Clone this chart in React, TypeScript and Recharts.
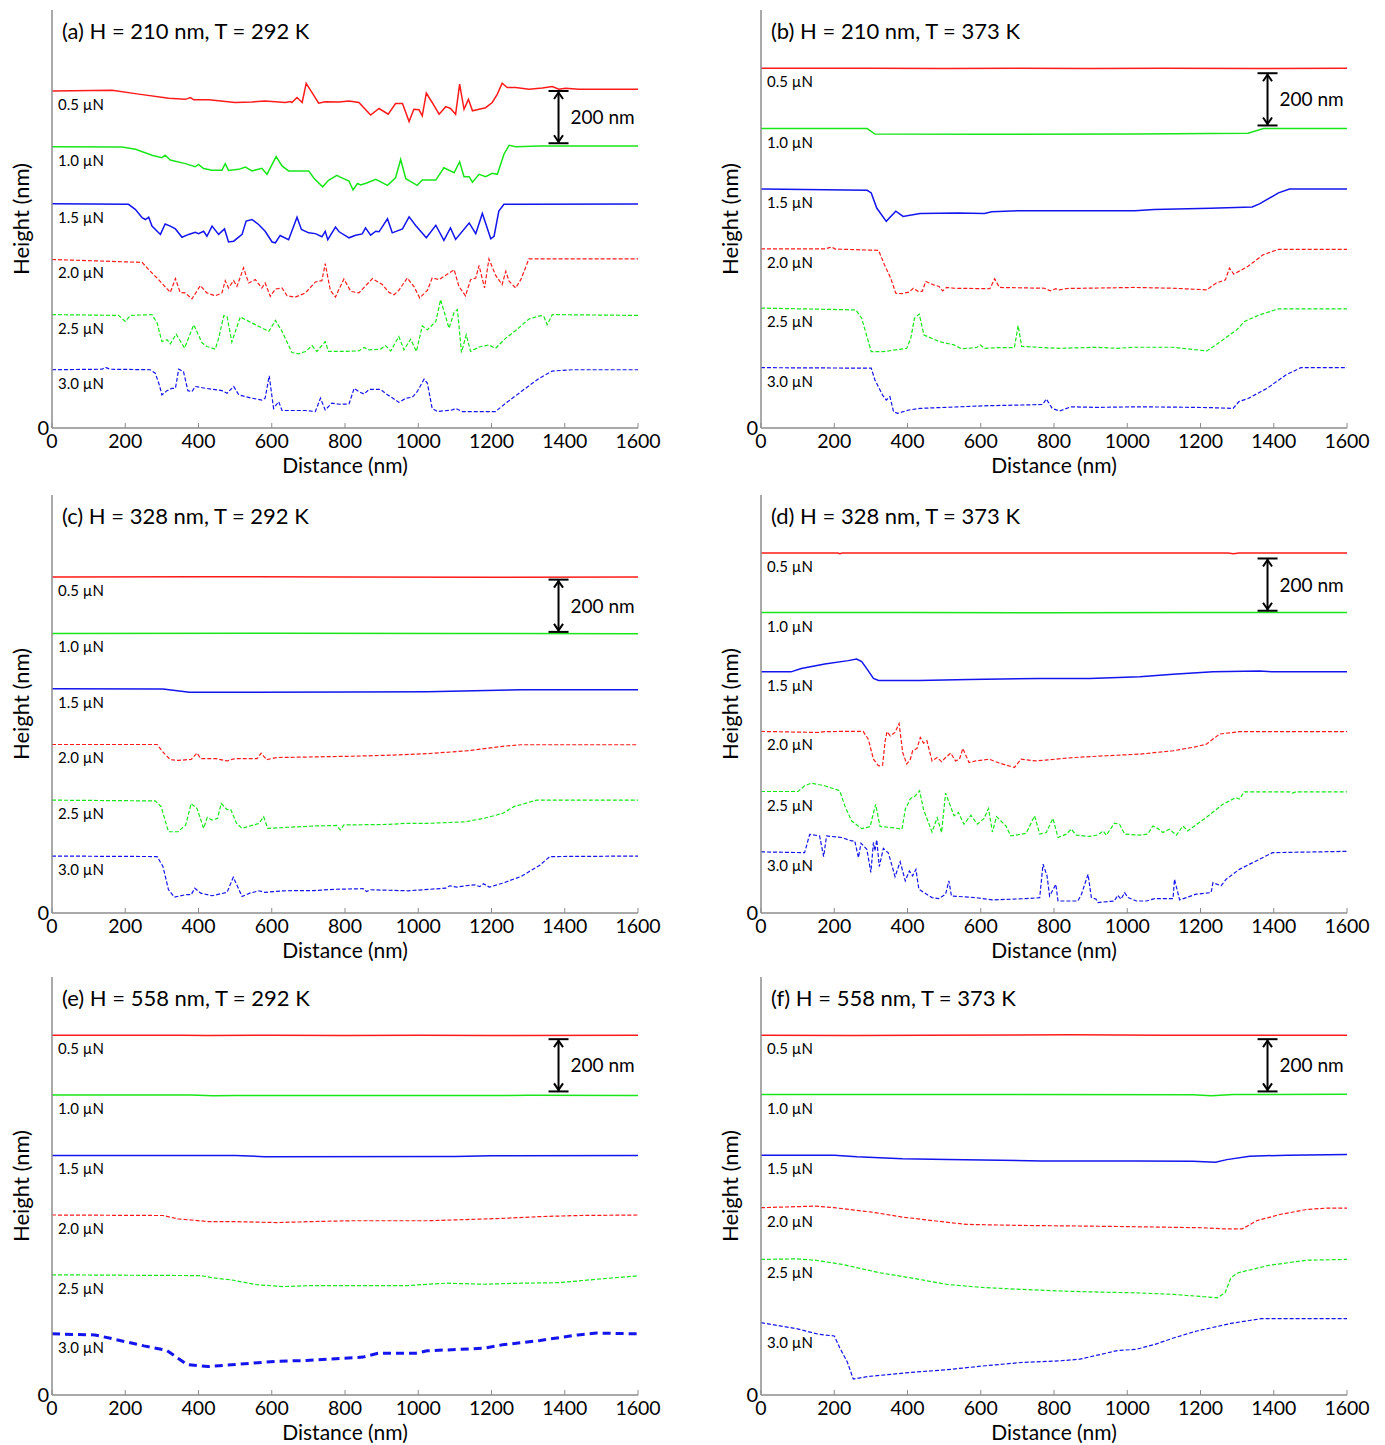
import React from "react";
import { LineChart, Line, XAxis, YAxis, ReferenceDot, ReferenceLine } from "recharts";

type Pt = [number, number];

const xTicks = [0, 200, 400, 600, 800, 1000, 1200, 1400, 1600];
const loads = ["0.5 µN", "1.0 µN", "1.5 µN", "2.0 µN", "2.5 µN", "3.0 µN"];
const titles = [
  "(a) H = 210 nm, T = 292 K",
  "(b) H = 210 nm, T = 373 K",
  "(c) H = 328 nm, T = 292 K",
  "(d) H = 328 nm, T = 373 K",
  "(e) H = 558 nm, T = 292 K",
  "(f) H = 558 nm, T = 373 K",
];
// top of the 200 nm scale bar in each panel (nm)
const barTops = [1290, 1358, 1276, 1357, 1362, 1362];
const barX = 1383;

// ---- (a) H = 210 nm, T = 292 K
const a05: Pt[] = [[0,1290],[164,1293],[237,1278],[319,1262],[364,1258],[378,1265],[387,1256],[428,1256],[500,1246],[546,1248],[582,1252],[637,1246],[651,1250],[655,1246],[669,1265],[683,1246],[694,1319],[710,1284],[728,1243],[746,1249],[784,1248],[811,1252],[838,1246],[870,1198],[893,1223],[918,1201],[938,1242],[957,1242],[975,1173],[988,1220],[1002,1218],[1011,1195],[1022,1282],[1038,1246],[1057,1201],[1075,1230],[1088,1223],[1102,1201],[1113,1316],[1125,1220],[1137,1258],[1148,1214],[1166,1220],[1184,1226],[1202,1246],[1216,1278],[1229,1320],[1243,1303],[1266,1303],[1302,1297],[1339,1301],[1366,1307],[1384,1297],[1402,1300],[1439,1297],[1600,1297]];
const a10: Pt[] = [[0,1077],[191,1076],[228,1067],[273,1044],[300,1035],[309,1044],[323,1026],[364,1012],[391,1000],[400,1009],[414,993],[437,987],[464,987],[473,1012],[482,986],[510,990],[528,999],[546,984],[573,994],[587,971],[612,1039],[628,1003],[646,984],[701,984],[714,958],[739,923],[755,948],[778,967],[784,962],[811,945],[822,911],[834,936],[843,930],[861,939],[884,952],[916,929],[938,958],[952,1028],[966,954],[997,929],[1011,949],[1048,949],[1070,996],[1098,977],[1113,1019],[1125,962],[1139,962],[1148,941],[1166,971],[1184,962],[1202,975],[1216,971],[1234,1048],[1248,1082],[1266,1077],[1330,1079],[1600,1079]];
const a15: Pt[] = [[0,858],[209,856],[228,836],[246,805],[255,798],[264,807],[273,773],[296,741],[309,781],[323,773],[337,762],[355,730],[373,741],[391,749],[400,744],[414,753],[423,734],[437,773],[455,741],[471,762],[482,712],[496,715],[519,741],[530,792],[546,798],[564,779],[582,753],[601,712],[610,709],[623,737],[646,721],[669,807],[681,760],[701,747],[719,744],[737,732],[746,753],[753,721],[774,769],[784,751],[811,728],[829,738],[847,743],[856,766],[870,738],[884,753],[893,751],[916,801],[929,747],[957,762],[975,808],[993,775],[1022,728],[1048,776],[1070,718],[1088,766],[1102,722],[1139,785],[1157,744],[1175,821],[1198,724],[1207,734],[1220,830],[1234,856],[1284,856],[1600,857]];
const a20: Pt[] = [[0,645],[246,634],[264,606],[291,568],[323,519],[337,572],[350,519],[364,517],[382,494],[405,545],[423,517],[446,506],[464,517],[473,564],[482,536],[496,564],[505,542],[523,613],[537,555],[555,568],[573,536],[582,555],[596,504],[610,532],[628,536],[642,506],[664,501],[692,517],[719,559],[737,564],[746,629],[760,527],[774,501],[783,529],[797,570],[816,523],[838,517],[875,572],[902,549],[920,519],[934,510],[947,527],[970,574],[988,542],[1004,498],[1025,527],[1038,574],[1057,568],[1098,606],[1111,542],[1129,506],[1143,568],[1157,574],[1166,622],[1181,536],[1193,647],[1211,585],[1229,549],[1239,600],[1248,562],[1266,536],[1280,568],[1289,600],[1302,647],[1600,647]];
const a25: Pt[] = [[0,434],[182,431],[200,408],[214,431],[273,434],[287,402],[300,331],[314,338],[323,322],[339,359],[362,306],[387,395],[410,325],[423,312],[446,302],[455,344],[469,430],[478,427],[491,329],[514,425],[546,402],[592,370],[610,412],[628,370],[655,289],[673,284],[692,293],[710,315],[723,293],[746,330],[755,293],[784,293],[838,295],[852,308],[866,299],[897,302],[911,315],[925,295],[947,350],[961,299],[979,340],[995,293],[1011,391],[1025,376],[1048,408],[1061,491],[1084,382],[1098,443],[1107,453],[1118,289],[1131,357],[1143,293],[1166,310],[1193,318],[1211,305],[1239,344],[1266,373],[1302,417],[1334,430],[1343,427],[1352,395],[1366,434],[1600,431]];
const a30: Pt[] = [[0,223],[137,225],[146,232],[159,225],[268,223],[282,210],[293,165],[300,127],[314,143],[328,152],[337,152],[346,225],[359,216],[371,143],[382,139],[391,159],[419,152],[464,143],[478,133],[496,159],[510,127],[546,114],[573,107],[582,114],[593,200],[605,75],[619,101],[628,67],[692,67],[719,63],[733,114],[746,69],[764,95],[784,91],[811,92],[825,152],[838,139],[852,130],[866,148],[897,148],[916,127],[929,116],[947,98],[966,114],[984,118],[997,139],[1016,187],[1025,171],[1038,75],[1052,63],[1093,69],[1102,75],[1120,63],[1211,63],[1239,95],[1293,152],[1330,190],[1366,218],[1421,223],[1600,223]];

// ---- (b) H = 210 nm, T = 373 K
const b05: Pt[] = [[0,1377],[300,1377],[500,1376],[700,1377],[900,1376],[1100,1377],[1350,1376],[1600,1377]];
const b10: Pt[] = [[0,1146],[290,1146],[311,1125],[610,1124],[1021,1125],[1330,1128],[1372,1146],[1600,1146]];
const b15: Pt[] = [[0,915],[290,910],[301,900],[316,842],[342,791],[368,830],[388,810],[434,821],[537,823],[610,821],[630,828],[712,832],[1021,832],[1073,836],[1227,841],[1341,846],[1361,858],[1413,900],[1443,915],[1600,915]];
const b20: Pt[] = [[0,686],[177,686],[193,693],[203,685],[321,680],[337,625],[354,574],[368,516],[383,514],[404,520],[416,535],[429,523],[440,523],[450,561],[471,548],[486,542],[496,525],[507,538],[527,535],[625,533],[638,571],[651,538],[774,535],[790,525],[805,533],[815,529],[836,534],[1021,538],[1124,535],[1217,529],[1243,555],[1268,567],[1279,612],[1291,589],[1330,619],[1371,663],[1413,684],[1600,684]];
const b25: Pt[] = [[0,459],[259,452],[275,420],[301,292],[332,292],[398,305],[409,344],[419,420],[432,436],[445,356],[486,331],[527,318],[548,303],[589,308],[599,318],[610,305],[651,308],[692,308],[702,392],[712,312],[815,305],[918,309],[970,305],[1021,309],[1124,309],[1217,295],[1248,324],[1299,376],[1320,408],[1361,433],[1413,456],[1600,456]];
const b30: Pt[] = [[0,231],[301,229],[311,184],[332,126],[342,107],[352,120],[362,62],[373,56],[404,69],[434,75],[537,81],[610,85],[712,88],[769,90],[779,111],[795,75],[815,65],[846,81],[918,79],[1021,81],[1124,80],[1227,78],[1289,75],[1305,101],[1330,113],[1382,152],[1433,203],[1474,231],[1600,231]];

// ---- (c) H = 328 nm, T = 292 K
const c05: Pt[] = [[0,1286],[400,1287],[800,1286],[1200,1285],[1600,1286]];
const c10: Pt[] = [[0,1070],[600,1071],[1100,1070],[1600,1069]];
const c15: Pt[] = [[0,858],[303,857],[375,845],[509,845],[818,846],[1024,847],[1281,855],[1600,855]];
const c20: Pt[] = [[0,645],[287,645],[303,616],[323,587],[344,584],[380,588],[396,612],[406,591],[447,591],[478,582],[499,591],[560,591],[571,612],[586,587],[612,595],[818,600],[921,604],[1024,610],[1127,620],[1230,638],[1281,644],[1600,644]];
const c25: Pt[] = [[0,432],[282,429],[298,407],[318,311],[344,311],[365,337],[380,419],[396,400],[414,324],[424,366],[437,356],[452,362],[462,419],[478,396],[488,396],[504,343],[519,324],[550,337],[565,343],[578,368],[589,324],[715,333],[777,335],[787,318],[797,337],[921,339],[962,343],[1024,343],[1127,349],[1178,362],[1230,381],[1261,407],[1323,432],[1600,432]];
const c30: Pt[] = [[0,218],[287,216],[303,178],[318,89],[334,61],[365,70],[380,70],[390,95],[406,76],[437,66],[478,79],[495,137],[519,63],[540,76],[565,85],[581,79],[632,85],[715,86],[777,91],[849,93],[859,82],[869,89],[972,85],[1075,95],[1086,104],[1106,99],[1127,104],[1153,108],[1168,101],[1178,112],[1194,99],[1230,114],[1281,140],[1333,184],[1359,216],[1600,218]];

// ---- (d) H = 328 nm, T = 373 K
const d05: Pt[] = [[0,1378],[210,1378],[215,1375],[222,1378],[1275,1378],[1290,1375],[1305,1378],[1600,1378]];
const d10: Pt[] = [[0,1150],[400,1150],[800,1149],[1200,1150],[1600,1150]];
const d15: Pt[] = [[0,923],[82,923],[110,936],[174,953],[238,966],[261,972],[275,962],[293,927],[307,898],[321,890],[431,890],[568,894],[761,898],[897,898],[1034,904],[1125,914],[1234,923],[1361,926],[1397,923],[1600,923]];
const d20: Pt[] = [[0,695],[156,691],[174,694],[220,695],[279,695],[293,665],[307,589],[321,563],[332,566],[339,659],[344,694],[353,678],[366,691],[377,725],[387,614],[398,570],[408,589],[414,621],[426,630],[435,672],[444,650],[453,659],[467,582],[481,595],[493,579],[504,595],[518,612],[531,582],[542,589],[551,630],[568,576],[586,582],[623,589],[650,574],[692,557],[710,589],[751,582],[852,595],[943,602],[1034,608],[1125,621],[1179,634],[1216,646],[1252,685],[1306,694],[1600,694]];
const d25: Pt[] = [[0,465],[101,465],[119,487],[137,497],[174,487],[215,468],[229,410],[247,353],[275,323],[298,331],[313,416],[325,331],[357,327],[385,321],[394,397],[408,438],[421,448],[433,468],[444,395],[467,310],[481,365],[493,308],[504,459],[527,372],[539,385],[554,340],[573,374],[591,340],[609,362],[621,400],[632,310],[643,369],[669,333],[682,295],[724,305],[747,372],[761,302],[779,308],[797,362],[811,289],[834,302],[847,321],[861,298],[897,293],[920,299],[934,314],[943,298],[965,344],[979,340],[993,302],[1034,298],[1056,302],[1070,333],[1084,323],[1097,308],[1115,321],[1134,298],[1152,333],[1165,314],[1215,365],[1261,416],[1297,442],[1306,436],[1320,464],[1443,464],[1452,459],[1461,464],[1600,464]];
const d30: Pt[] = [[0,234],[119,231],[133,301],[160,295],[171,216],[179,295],[220,289],[247,276],[256,276],[266,212],[273,267],[289,244],[300,155],[307,270],[311,238],[316,280],[323,178],[334,247],[348,229],[366,139],[380,196],[394,123],[405,161],[414,142],[423,167],[431,91],[467,59],[485,55],[504,72],[513,123],[520,65],[586,59],[632,50],[724,55],[761,59],[770,187],[781,142],[788,65],[805,110],[811,46],[865,46],[875,72],[893,148],[902,59],[915,53],[920,40],[965,46],[974,68],[983,53],[993,78],[1002,59],[1025,46],[1052,46],[1075,55],[1125,55],[1129,129],[1143,50],[1188,72],[1229,78],[1234,116],[1256,104],[1270,129],[1306,167],[1343,193],[1397,231],[1600,236]];

// ---- (e) H = 558 nm, T = 292 K
const e05: Pt[] = [[0,1377],[360,1377],[420,1376],[600,1377],[800,1376],[1000,1377],[1200,1376],[1600,1377]];
const e10: Pt[] = [[0,1148],[380,1148],[440,1145],[500,1146],[900,1146],[1300,1147],[1600,1146]];
const e15: Pt[] = [[0,917],[500,917],[580,912],[1100,913],[1200,916],[1600,917]];
const e20: Pt[] = [[0,689],[303,687],[344,674],[426,664],[488,664],[612,660],[715,664],[818,667],[1024,667],[1230,676],[1333,683],[1436,687],[1600,689]];
const e25: Pt[] = [[0,460],[406,457],[447,447],[488,441],[560,422],[632,415],[715,419],[818,419],[972,419],[1075,428],[1178,424],[1281,428],[1384,430],[1487,443],[1600,456]];
const e30: Pt[] = [[0,234],[117,230],[169,214],[251,188],[313,171],[344,141],[370,116],[426,109],[509,118],[612,129],[694,132],[849,145],[890,160],[993,160],[1024,169],[1178,179],[1230,192],[1333,209],[1436,230],[1487,237],[1600,234]];

// ---- (f) H = 558 nm, T = 373 K
const f05: Pt[] = [[0,1377],[250,1376],[450,1377],[850,1379],[1100,1377],[1600,1377]];
const f10: Pt[] = [[0,1150],[600,1150],[1180,1149],[1230,1145],[1290,1150],[1600,1151]];
const f15: Pt[] = [[0,918],[200,918],[262,912],[386,904],[509,901],[767,896],[1025,896],[1179,895],[1241,891],[1272,901],[1334,914],[1437,918],[1600,921]];
const f20: Pt[] = [[0,717],[148,723],[200,717],[303,700],[386,681],[478,666],[561,653],[716,649],[922,646],[1025,644],[1210,640],[1262,636],[1314,636],[1355,668],[1417,691],[1489,710],[1540,715],[1600,715]];
const f25: Pt[] = [[0,519],[97,521],[148,516],[221,500],[324,468],[406,449],[509,423],[612,411],[716,404],[819,398],[922,394],[1025,391],[1128,385],[1210,376],[1246,372],[1267,391],[1283,449],[1303,468],[1386,496],[1489,516],[1600,519]];
const f30: Pt[] = [[0,277],[97,254],[159,232],[200,226],[215,181],[236,125],[252,61],[293,71],[406,86],[509,97],[612,112],[716,125],[819,131],[870,137],[973,170],[1025,175],[1076,194],[1128,219],[1190,245],[1283,274],[1365,292],[1600,292]];

const colors = ["#ff1a1a", "#19e619", "#1414ee"];
const frame = "#8c8c8c";

const panels = [
  { series: [a05, a10, a15, a20, a25, a30], left: 0, top: 0 },
  { series: [b05, b10, b15, b20, b25, b30], left: 709, top: 0 },
  { series: [c05, c10, c15, c20, c25, c30], left: 0, top: 485 },
  { series: [d05, d10, d15, d20, d25, d30], left: 709, top: 485 },
  { series: [e05, e10, e15, e20, e25, e30], left: 0, top: 967 },
  { series: [f05, f10, f15, f20, f25, f30], left: 709, top: 967 },
];

// label sits just under the lowest part of the line's left end
const labelAnchor = (s: Pt[]) => Math.min(...s.filter(([x]) => x <= 100).map(([, y]) => y));

function Panel({ idx }: { idx: number }) {
  const p = panels[idx];
  const top = barTops[idx];
  return (
    <div style={{ position: "absolute", left: p.left, top: p.top }}>
      <LineChart width={678} height={484} margin={{ top: 10, right: 40, bottom: 6, left: 2 }}>
        <XAxis
          dataKey="x"
          type="number"
          domain={[0, 1600]}
          ticks={xTicks}
          interval={0}
          allowDataOverflow
          height={50}
          tickSize={-5}
          tickMargin={11}
          axisLine={{ stroke: frame, strokeWidth: 1.5 }}
          tickLine={{ stroke: frame }}
          tick={{ fill: "#000", fontSize: 19.5 }}
          label={{ value: "Distance (nm)", position: "insideBottom", offset: 5, fill: "#000", fontSize: 21 }}
        />
        <XAxis
          xAxisId="top"
          orientation="top"
          type="number"
          domain={[0, 1600]}
          ticks={xTicks}
          interval={0}
          allowDataOverflow
          height={0}
          tickSize={-5}
          tick={false}
          axisLine={{ stroke: frame, strokeWidth: 1.5 }}
          tickLine={{ stroke: frame }}
        />
        <YAxis
          type="number"
          domain={[0, 1600]}
          ticks={[0]}
          allowDataOverflow
          width={50}
          tickSize={1}
          tickMargin={2}
          tickLine={false}
          axisLine={{ stroke: frame, strokeWidth: 1.5 }}
          tick={{ fill: "#000", fontSize: 20 }}
          label={{
            value: "Height (nm)",
            angle: -90,
            position: "insideLeft",
            offset: 19,
            fill: "#000",
            fontSize: 22,
            style: { textAnchor: "middle" },
          }}
        />
        <YAxis
          yAxisId="right"
          orientation="right"
          type="number"
          domain={[0, 1600]}
          allowDataOverflow
          width={0}
          tick={false}
          tickLine={false}
          axisLine={{ stroke: frame, strokeWidth: 1.5 }}
        />
        {p.series.map((s, i) => {
          const thick = idx === 4 && i === 5;
          return (
            <Line
              key={i}
              data={s.map(([x, y]) => ({ x, y }))}
              dataKey="y"
              type="linear"
              dot={false}
              activeDot={false}
              isAnimationActive={false}
              stroke={colors[i % 3]}
              strokeWidth={thick ? 3 : i < 3 ? 1.5 : 1.2}
              strokeDasharray={thick ? "8 5" : i >= 3 ? "4 2" : undefined}
            />
          );
        })}
        {p.series.map((s, i) => (
          <ReferenceDot
            key={"l" + i}
            x={0}
            y={labelAnchor(s)}
            r={0}
            shape={(d: any) => (
              <text x={d.cx + 6} y={d.cy + 19} fontSize={15} fill="#000">
                {loads[i]}
              </text>
            )}
          />
        ))}
        <ReferenceDot
          x={0}
          y={1600}
          r={0}
          shape={(d: any) => (
            <text x={d.cx + 10} y={d.cy + 29} fontSize={22} fill="#000">
              {titles[idx]}
            </text>
          )}
        />
        <ReferenceLine
          segment={[
            { x: barX, y: top },
            { x: barX, y: top - 200 },
          ]}
          stroke="#000"
          strokeWidth={2}
        />
        <ReferenceDot
          x={barX}
          y={top}
          r={0}
          shape={(d: any) => (
            <g stroke="#000" strokeWidth={2} fill="none">
              <line x1={d.cx - 10} x2={d.cx + 10} y1={d.cy} y2={d.cy} />
              <polyline points={`${d.cx - 4.5},${d.cy + 8} ${d.cx},${d.cy + 1.5} ${d.cx + 4.5},${d.cy + 8}`} />
            </g>
          )}
        />
        <ReferenceDot
          x={barX}
          y={top - 200}
          r={0}
          shape={(d: any) => (
            <g stroke="#000" strokeWidth={2} fill="none">
              <line x1={d.cx - 10} x2={d.cx + 10} y1={d.cy} y2={d.cy} />
              <polyline points={`${d.cx - 4.5},${d.cy - 8} ${d.cx},${d.cy - 1.5} ${d.cx + 4.5},${d.cy - 8}`} />
            </g>
          )}
        />
        <ReferenceDot
          x={barX}
          y={top - 100}
          r={0}
          shape={(d: any) => (
            <text x={d.cx + 12} y={d.cy + 7} fontSize={19} fill="#000">
              200 nm
            </text>
          )}
        />
      </LineChart>
    </div>
  );
}

export default function App() {
  return (
    <div
      style={{
        position: "absolute",
        left: 0,
        top: 0,
        width: 1385,
        height: 1445,
        overflow: "hidden",
        background: "#fff",
        fontFamily: "Lato, sans-serif",
      }}
    >
      {panels.map((_, i) => (
        <Panel key={i} idx={i} />
      ))}
    </div>
  );
}
